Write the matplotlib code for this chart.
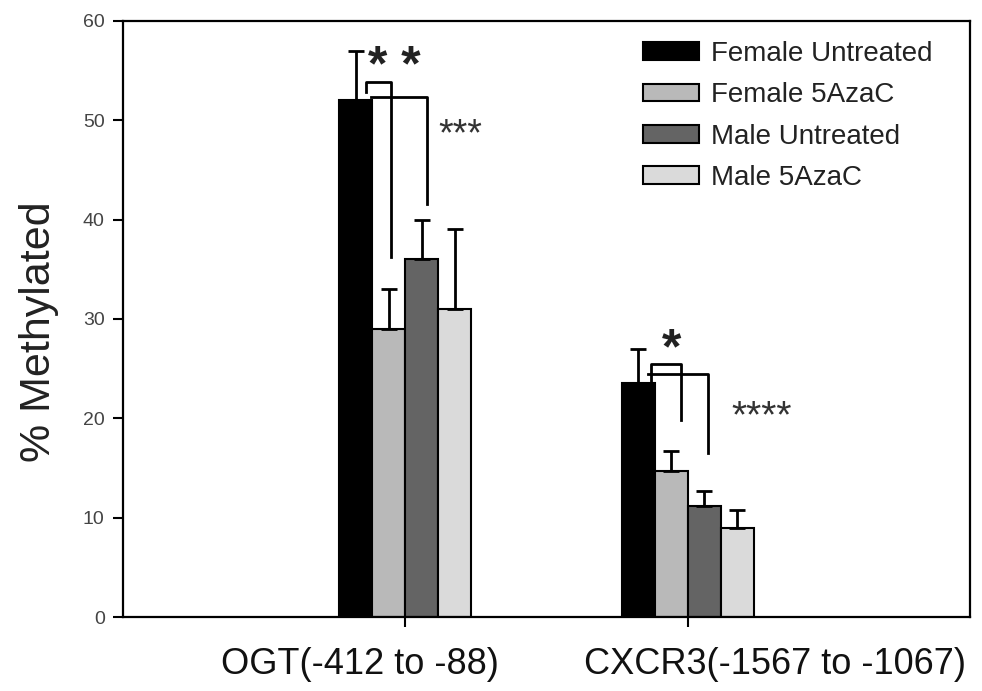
import numpy as np
import matplotlib
matplotlib.use("Agg")
import matplotlib.pyplot as plt
from matplotlib.transforms import ScaledTranslation

plt.rcParams['font.family'] = ['Liberation Sans', 'DejaVu Sans']

genes = ["OGT(-412 to -88)", "CXCR3(-1567 to -1067)"]
groups = ["Female Untreated", "Female 5AzaC", "Male Untreated", "Male 5AzaC"]
colors = ["#000000", "#b9b9b9", "#646464", "#dadada"]

# % methylated, one list per group (OGT, CXCR3)
female_untreated = [52.0, 23.5]
female_azac = [29.0, 14.7]
male_untreated = [36.0, 11.2]
male_azac = [31.0, 9.0]

# upper error (SEM)
female_untreated_err = [5.0, 3.5]
female_azac_err = [4.0, 2.0]
male_untreated_err = [4.0, 1.5]
male_azac_err = [8.0, 1.8]

values = [female_untreated, female_azac, male_untreated, male_azac]
errors = [female_untreated_err, female_azac_err, male_untreated_err, male_azac_err]

fig = plt.figure(figsize=(9.82, 6.91), dpi=100)
ax = fig.add_axes([0.125, 0.107, 0.863, 0.863])

x = np.array([1, 2])
w = 0.117
for i in range(4):
    pos = x + (i - 1.5) * w
    ax.bar(pos, values[i], w, color=colors[i], edgecolor="black",
           linewidth=1.5, label=groups[i], zorder=2)
    ax.errorbar(pos, values[i], yerr=[np.zeros(2), errors[i]], fmt="none",
                ecolor="black", elinewidth=2, capsize=5.5, capthick=2, zorder=3)

ax.set_xlim(0, 3)
ax.set_ylim(0, 60)
ax.set_xticks(x)
ax.set_xticklabels([])
# labels in the original sit off-centre from their ticks
for xi, name, dx in zip(x, genes, [-0.45, 0.87]):
    tr = ax.get_xaxis_transform() + ScaledTranslation(dx, 0, fig.dpi_scale_trans)
    ax.text(xi, -0.05, name, transform=tr, fontsize=26, color="#111111",
            ha="center", va="top")
ax.set_yticks(range(0, 61, 10))
ax.tick_params(axis="y", labelsize=14, labelcolor="#444444", length=7, width=1.5, pad=6)
ax.tick_params(axis="x", length=7, width=1.5)
for s in ax.spines.values():
    s.set_linewidth(1.6)
ax.set_ylabel("% Methylated", fontsize=31, color="#222222")
ax.yaxis.set_label_coords(-0.075, 0.478)

# significance brackets
c = lambda g, i: x[g] + (i - 1.5) * w


def bracket(x0, x1, y, y_tick, y_end, lw=2):
    ax.plot([x0, x0, x1, x1], [y_tick, y, y, y_end], color="black", lw=lw, zorder=4)


bracket(c(0, 0) + 0.035, c(0, 1) + 0.007, 53.8, 52.8, 36.2)
bracket(c(0, 0) + 0.055, c(0, 2) + 0.018, 52.3, 52.3, 41.6)
ax.text(c(0, 1) + 0.02, 55.2, "* *", fontsize=36, ha="center", va="center",
        fontweight="bold", color="#222222")
ax.text(c(0, 3) + 0.02, 48.5, "***", fontsize=27, ha="center", va="center",
        color="#333333")

bracket(c(1, 0) + 0.045, c(1, 1) + 0.035, 25.5, 23.8, 19.8)
bracket(c(1, 0) + 0.034, c(1, 2) + 0.013, 24.5, 24.5, 16.5)
ax.text(c(1, 1) + 0.0, 26.8, "*", fontsize=36, ha="center", va="center",
        fontweight="bold", color="#222222")
ax.text(c(1, 3) + 0.085, 20.1, "****", fontsize=28, ha="center", va="center",
        color="#333333")

ax.legend(loc="upper left", bbox_to_anchor=(0.614, 0.966), frameon=False,
          fontsize=20, handlelength=2.0, handleheight=0.6, handletextpad=0.45,
          labelspacing=0.55, borderpad=0, borderaxespad=0, labelcolor="#222222")

fig.savefig("out.png", dpi=100)
